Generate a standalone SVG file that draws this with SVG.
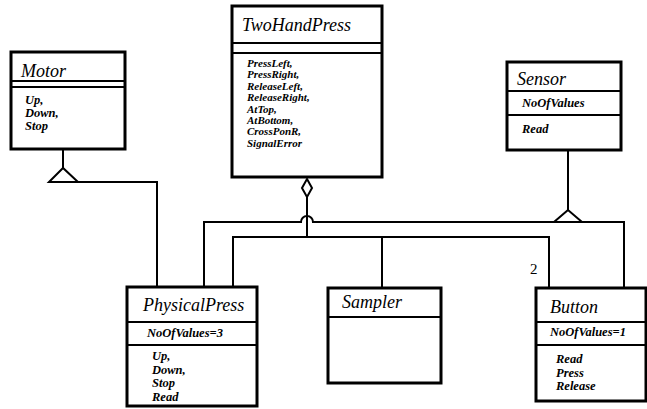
<svg xmlns="http://www.w3.org/2000/svg" width="647" height="409" viewBox="0 0 647 409">
<style>
.box{fill:#fff;stroke:#000;stroke-width:3}
.div{stroke:#000;stroke-width:2}
.title{font-family:'Liberation Serif','Times New Roman','DejaVu Serif',serif;font-style:italic;font-size:18px;fill:#000}
.item{font-family:'Liberation Serif','Times New Roman','DejaVu Serif',serif;font-style:italic;font-weight:bold;font-size:12.5px;fill:#000}
.sm{font-size:11px}
.conn{fill:none;stroke:#000;stroke-width:2}
.lbl{font-family:'Liberation Serif','Times New Roman',serif;font-size:15px;fill:#000}
</style>
<rect width="647" height="409" fill="#fff"/>
<g id="connectors">
<path class="conn" d="M63,149 V168"/>
<path class="conn" d="M63,168 L49,182 H78 Z"/>
<path class="conn" d="M78,182 H157 V287"/>
<path class="conn" d="M307,179 L312,188 L307,197 L302,188 Z"/>
<path class="conn" d="M307,197 V237"/>
<path class="conn" d="M233,287 V237 H549 V288"/>
<path class="conn" d="M382,237 V288"/>
<path class="conn" d="M568,150 V210"/>
<path class="conn" d="M568,210 L554,222 H582 Z"/>
<path class="conn" d="M204,287 V222 H301 A6,6 0 0 1 313,222 H554"/>
<path class="conn" d="M582,222 H624 V288"/>
<text class="lbl" x="530" y="274">2</text>
</g>
<g id="Motor">
<rect class="box" x="11" y="52" width="114" height="97"/>
<line class="div" x1="11" y1="81" x2="125" y2="81"/>
<line class="div" x1="11" y1="87" x2="125" y2="87"/>
<text class="title" x="21" y="77">Motor</text>
<text class="item" x="25" y="104">Up,</text>
<text class="item" x="25" y="117">Down,</text>
<text class="item" x="25" y="130">Stop</text>
</g>
<g id="TwoHandPress">
<rect class="box" x="232" y="6" width="150" height="171"/>
<line class="div" x1="232" y1="43" x2="382" y2="43"/>
<line class="div" x1="232" y1="53" x2="382" y2="53"/>
<text class="title" x="242" y="31">TwoHandPress</text>
<text class="item sm" x="247" y="67">PressLeft,</text>
<text class="item sm" x="247" y="78.4">PressRight,</text>
<text class="item sm" x="247" y="89.8">ReleaseLeft,</text>
<text class="item sm" x="247" y="101.2">ReleaseRight,</text>
<text class="item sm" x="247" y="112.6">AtTop,</text>
<text class="item sm" x="247" y="124">AtBottom,</text>
<text class="item sm" x="247" y="135.4">CrossPonR,</text>
<text class="item sm" x="247" y="146.8">SignalError</text>
</g>
<g id="Sensor">
<rect class="box" x="507" y="62" width="114" height="88"/>
<line class="div" x1="507" y1="91" x2="621" y2="91"/>
<line class="div" x1="507" y1="115" x2="621" y2="115"/>
<text class="title" x="517" y="85">Sensor</text>
<text class="item" x="522" y="107">NoOfValues</text>
<text class="item" x="522" y="133">Read</text>
</g>
<g id="PhysicalPress">
<rect class="box" x="127" y="287" width="130" height="119"/>
<line class="div" x1="127" y1="322" x2="257" y2="322"/>
<line class="div" x1="127" y1="345" x2="257" y2="345"/>
<text class="title" x="143" y="311">PhysicalPress</text>
<text class="item" x="147" y="337">NoOfValues=3</text>
<text class="item" x="152" y="360">Up,</text>
<text class="item" x="152" y="374">Down,</text>
<text class="item" x="152" y="387">Stop</text>
<text class="item" x="152" y="401">Read</text>
</g>
<g id="Sampler">
<rect class="box" x="328" y="288" width="113" height="95"/>
<line class="div" x1="328" y1="317" x2="441" y2="317"/>
<text class="title" x="342" y="308">Sampler</text>
</g>
<g id="Button">
<rect class="box" x="536" y="288" width="110" height="113"/>
<line class="div" x1="536" y1="322" x2="646" y2="322"/>
<line class="div" x1="536" y1="345" x2="646" y2="345"/>
<text class="title" x="550" y="313">Button</text>
<text class="item" x="550" y="336">NoOfValues=1</text>
<text class="item" x="556" y="363">Read</text>
<text class="item" x="556" y="377">Press</text>
<text class="item" x="556" y="390">Release</text>
</g>
</svg>
